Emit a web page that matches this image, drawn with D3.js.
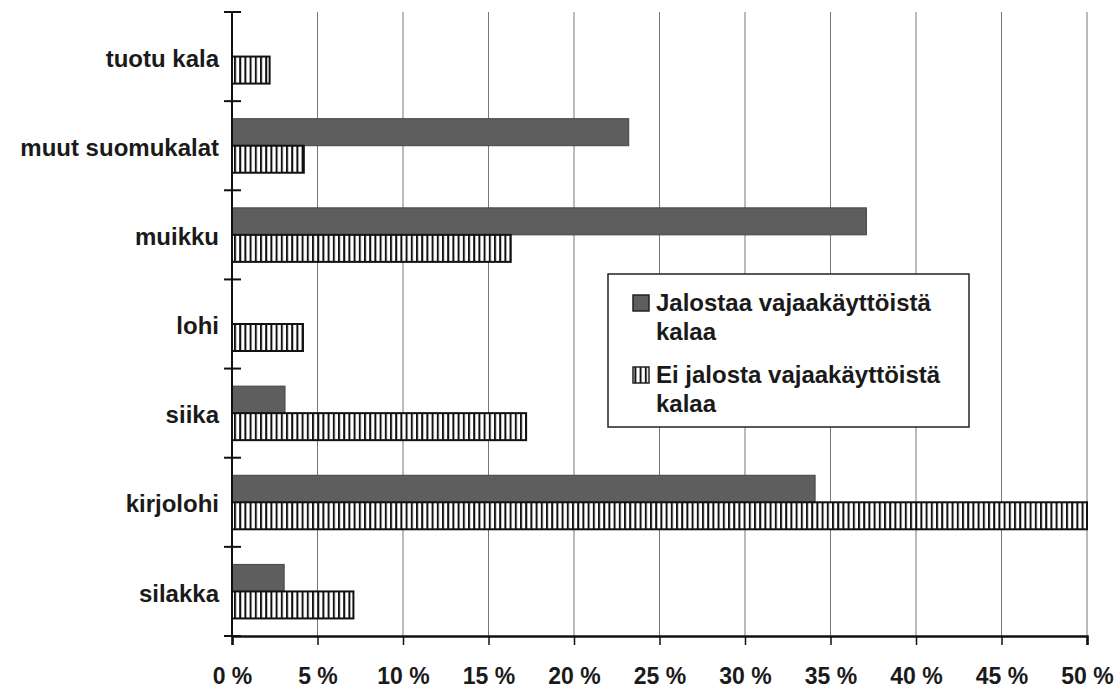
<!DOCTYPE html>
<html>
<head>
<meta charset="utf-8">
<script src="https://cdn.jsdelivr.net/npm/d3@7"></script>
<style>
  html, body { margin: 0; padding: 0; background: #fff; }
  svg { display: block; }
  text { font-family: "Liberation Sans", Arial, Helvetica, sans-serif; font-weight: bold; fill: #1a1a1a; }
</style>
</head>
<body>
<svg id="chart" width="1120" height="692"></svg>
<script>
// Fish species (top to bottom)
const categories = ["tuotu kala", "muut suomukalat", "muikku", "lohi", "siika", "kirjolohi", "silakka"];
// Series names
const seriesNames = ["Jalostaa vajaakäyttöistä kalaa", "Ei jalosta vajaakäyttöistä kalaa"];
// Share of companies, percent
const jalostaa   = [0, 23.2, 37.1, 0, 3.1, 34.1, 3.05];
const eiJalosta  = [2.2, 4.2, 16.3, 4.15, 17.2, 50, 7.1];
// X axis ticks
const tickValues = [0, 5, 10, 15, 20, 25, 30, 35, 40, 45, 50];

const svg = d3.select("#chart");
const plot = { left: 232, right: 1087, top: 12, bottom: 636 };

const x = d3.scaleLinear().domain([0, 50]).range([plot.left, plot.right]);
const y = d3.scaleBand().domain(categories).range([plot.top, plot.bottom]).padding(0);
const ySub = d3.scaleBand().domain(seriesNames).range([0, y.bandwidth()])
  .paddingInner(0).paddingOuter(0.65);

// Vertical stripe pattern for the second series
const defs = svg.append("defs");
const pat = defs.append("pattern")
  .attr("id", "stripes").attr("patternUnits", "userSpaceOnUse")
  .attr("width", 5.2).attr("height", 10);
pat.append("rect").attr("width", 5.2).attr("height", 10).attr("fill", "#fff");
pat.append("rect").attr("x", 0).attr("width", 2).attr("height", 10).attr("fill", "#111");

// Gridlines
svg.append("g").selectAll("line")
  .data(tickValues.slice(1))
  .join("line")
  .attr("x1", d => x(d)).attr("x2", d => x(d))
  .attr("y1", plot.top).attr("y2", plot.bottom)
  .attr("stroke", "#777").attr("stroke-width", 1);

// Bars
const rows = categories.map((c, i) => ({ c, values: [jalostaa[i], eiJalosta[i]] }));
const groups = svg.append("g").selectAll("g")
  .data(rows).join("g")
  .attr("transform", d => `translate(0,${y(d.c)})`);

groups.selectAll("rect")
  .data(d => d.values.map((v, k) => ({ v, s: seriesNames[k], k })).filter(e => e.v > 0))
  .join("rect")
  .attr("x", x(0))
  .attr("y", d => ySub(d.s))
  .attr("width", d => x(d.v) - x(0))
  .attr("height", ySub.bandwidth())
  .attr("fill", d => d.k === 0 ? "#5e5e5e" : "url(#stripes)")
  .attr("stroke", d => d.k === 0 ? "#444" : "#111")
  .attr("stroke-width", d => d.k === 0 ? 1 : 2);

// Bottom axis
const xAxis = d3.axisBottom(x).tickValues(tickValues).tickSize(9).tickFormat(d => d + " %");
const gx = svg.append("g").attr("transform", `translate(0,${plot.bottom})`).call(xAxis);
gx.select(".domain").attr("stroke", "#111").attr("stroke-width", 2.5);
gx.selectAll(".tick line").attr("stroke", "#111").attr("stroke-width", 1.5);
gx.selectAll(".tick text")
  .attr("y", 48).attr("dy", "0")
  .style("font-size", "23px").style("font-weight", "bold")
  .style("font-family", "'Liberation Sans', Arial, sans-serif").attr("fill", "#1a1a1a");

// Left axis with ticks at category boundaries
svg.append("line")
  .attr("x1", plot.left).attr("x2", plot.left).attr("y1", plot.top).attr("y2", plot.bottom)
  .attr("stroke", "#111").attr("stroke-width", 2);
const boundaries = categories.map(c => y(c)).concat([plot.bottom]);
svg.append("g").selectAll("line")
  .data(boundaries).join("line")
  .attr("x1", plot.left - 8).attr("x2", plot.left + 9)
  .attr("y1", d => d).attr("y2", d => d)
  .attr("stroke", "#111").attr("stroke-width", 2);

// Category labels
svg.append("g").selectAll("text")
  .data(categories).join("text")
  .attr("x", 219)
  .attr("y", d => y(d) + y.bandwidth() / 2)
  .attr("dy", "0.42em")
  .attr("text-anchor", "end")
  .style("font-size", "24px")
  .text(d => d);

// Legend
const lg = svg.append("g");
lg.append("rect")
  .attr("x", 608).attr("y", 274).attr("width", 361).attr("height", 153)
  .attr("fill", "#fff").attr("stroke", "#222").attr("stroke-width", 1.5);
const legendItems = [
  { lines: ["Jalostaa vajaakäyttöistä", "kalaa"], fill: "#5e5e5e", y0: 311 },
  { lines: ["Ei jalosta vajaakäyttöistä", "kalaa"], fill: "url(#stripes)", y0: 383 }
];
legendItems.forEach(it => {
  lg.append("rect")
    .attr("x", 633).attr("y", it.y0 - 16).attr("width", 16).attr("height", 16)
    .attr("fill", it.fill).attr("stroke", "#222").attr("stroke-width", 1.5);
  const t = lg.append("text").attr("x", 656).attr("y", it.y0).style("font-size", "24px");
  it.lines.forEach((ln, i) => {
    t.append("tspan").attr("x", 656).attr("dy", i === 0 ? 0 : 29).text(ln);
  });
});
</script>
</body>
</html>
